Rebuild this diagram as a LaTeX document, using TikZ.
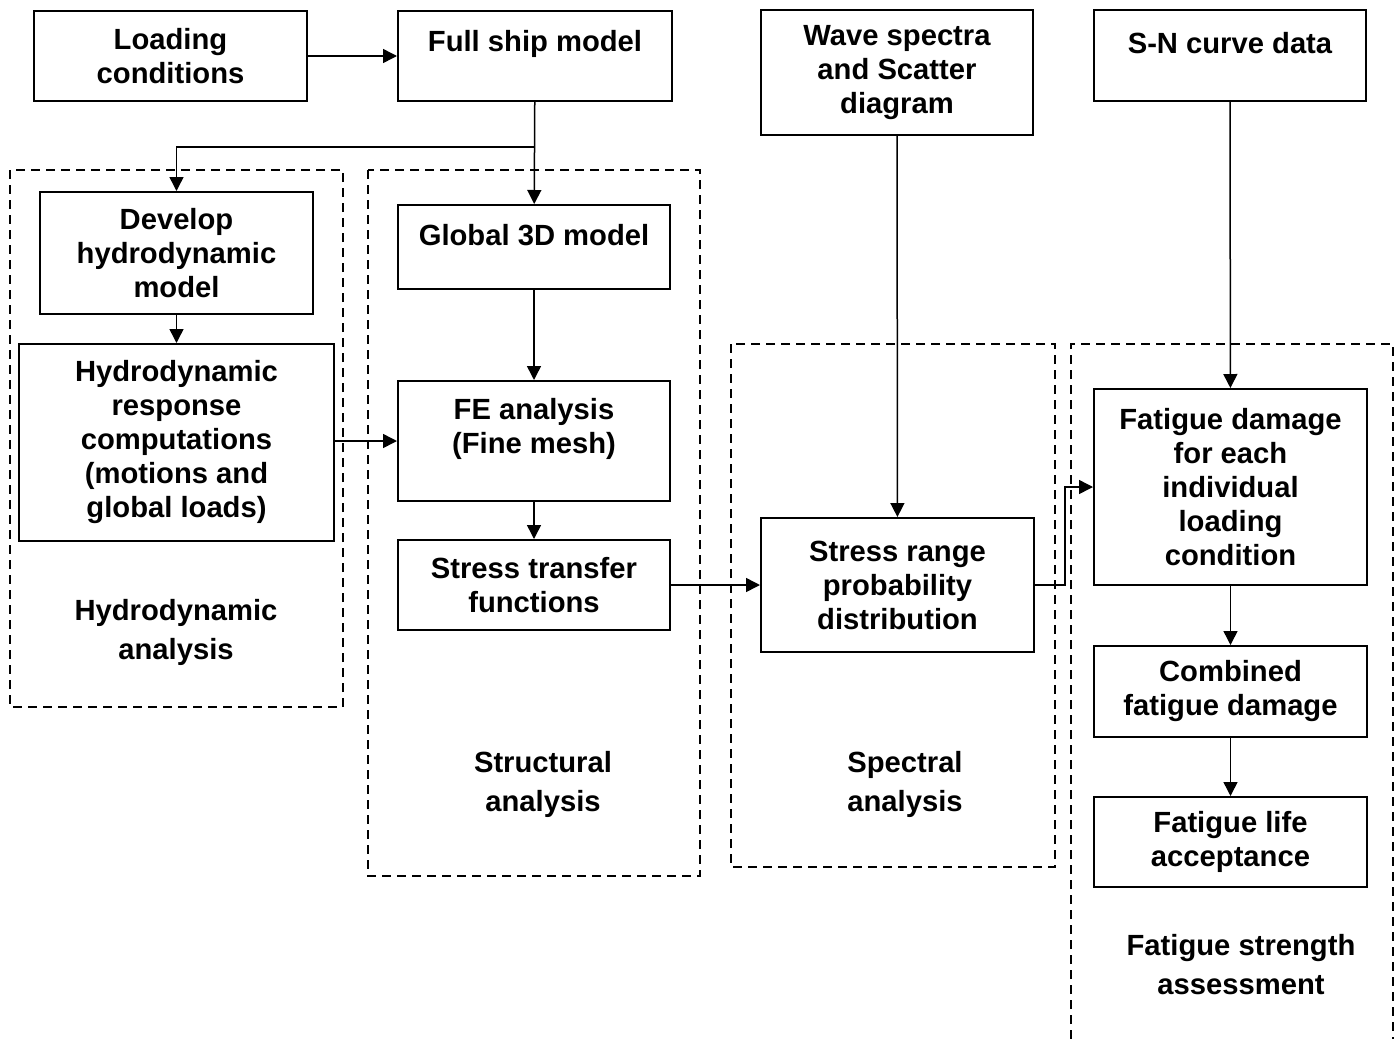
\documentclass[tikz,border=0pt]{standalone}
\usepackage{fontspec}
\setmainfont{Liberation Sans}
\usetikzlibrary{arrows.meta}

\begin{document}
\begin{tikzpicture}[
  x=0.5pt,y=-0.5pt,
  >={Triangle[length=7pt,width=7pt]},
  blocktext/.style={align=center,font=\fontsize{14.6pt}{17pt}\selectfont\bfseries},
  block/.style={draw,line width=1pt,inner sep=0pt,blocktext},
  upper/.style={label={[blocktext,yshift=6pt]center:{#1}}},
  group/.style={line width=0.75pt,dash pattern=on 4.5pt off 3pt},
  caption/.style={align=center,font=\fontsize{14.6pt}{19.5pt}\selectfont\bfseries},
  flow/.style={->,line width=0.75pt}
]
  \useasboundingbox (0,0) rectangle (1398,1039);

  % group frames
  \draw[group] (10,170) rectangle (343,707);
  \draw[group] (368,170) rectangle (700,876);
  \draw[group] (731,344) rectangle (1055,867);
  \draw[group] (1071,1039) |- (1393,344) -- (1393,1039);

  \node[caption] (hydlbl) at (176,632) {Hydrodynamic\\analysis};
  \node[caption] (strlbl) at (543,784) {Structural\\analysis};
  \node[caption] (spclbl) at (905,784) {Spectral\\analysis};
  \node[caption] (fatlbl) at (1241,965) {Fatigue strength\\assessment};

  % input boxes
  \node[block,minimum width=136.5pt,minimum height=45pt] (load) at (170.5,56) {Loading\\conditions};
  \node[block,minimum width=137pt,minimum height=45pt,upper={Full ship model}] (ship) at (535,56) {};
  \node[block,minimum width=136pt,minimum height=62.5pt] (wave) at (897,72.5) {Wave spectra\\and Scatter\\diagram};
  \node[block,minimum width=136pt,minimum height=45.5pt,upper={S-N curve data}] (sn) at (1230,55.5) {};

  % hydrodynamic analysis
  \node[block,minimum width=136.5pt,minimum height=61pt] (develop) at (176.5,253) {Develop\\hydrodynamic\\model};
  \node[block,minimum width=157.5pt,minimum height=98.5pt] (hresp) at (176.5,442.5) {Hydrodynamic\\response\\computations\\(motions and\\global loads)};

  % structural analysis
  \node[block,minimum width=136pt,minimum height=42pt,upper={Global 3D model}] (global) at (534,247) {};
  \node[block,minimum width=136pt,minimum height=60pt,upper={FE analysis\\(Fine mesh)}] (fe) at (534,441) {};
  \node[block,minimum width=136pt,minimum height=45pt] (stf) at (534,585) {Stress transfer\\functions};

  % spectral analysis
  \node[block,minimum width=136.5pt,minimum height=67pt] (srange) at (897.5,585) {Stress range\\probability\\distribution};

  % fatigue strength assessment
  \node[block,minimum width=136.5pt,minimum height=98pt] (fdam) at (1230.5,487) {Fatigue damage\\for each\\individual\\loading\\condition};
  \node[block,minimum width=136.5pt,minimum height=45.5pt] (comb) at (1230.5,691.5) {Combined\\fatigue damage};
  \node[block,minimum width=136.5pt,minimum height=45pt] (flife) at (1230.5,842) {Fatigue life\\acceptance};

  \coordinate (split) at (535,147);

  \draw[flow] (load) -- (ship);
  \draw[flow] (ship) -- (global);
  \draw[flow] (split) -| (develop);
  \draw[flow] (develop) -- (hresp);
  \draw[flow] (fe.west -| hresp.east) -- (fe.west);
  \draw[flow] (global) -- (fe);
  \draw[flow] (fe) -- (stf);
  \draw[flow] (stf) -- (srange);
  \draw[flow] (wave) -- (srange);
  \draw[flow] (srange.east) -- ++(30,0) |- (fdam.west);
  \draw[flow] (sn) -- (fdam);
  \draw[flow] (fdam) -- (comb);
  \draw[flow] (comb) -- (flife);
\end{tikzpicture}
\end{document}
